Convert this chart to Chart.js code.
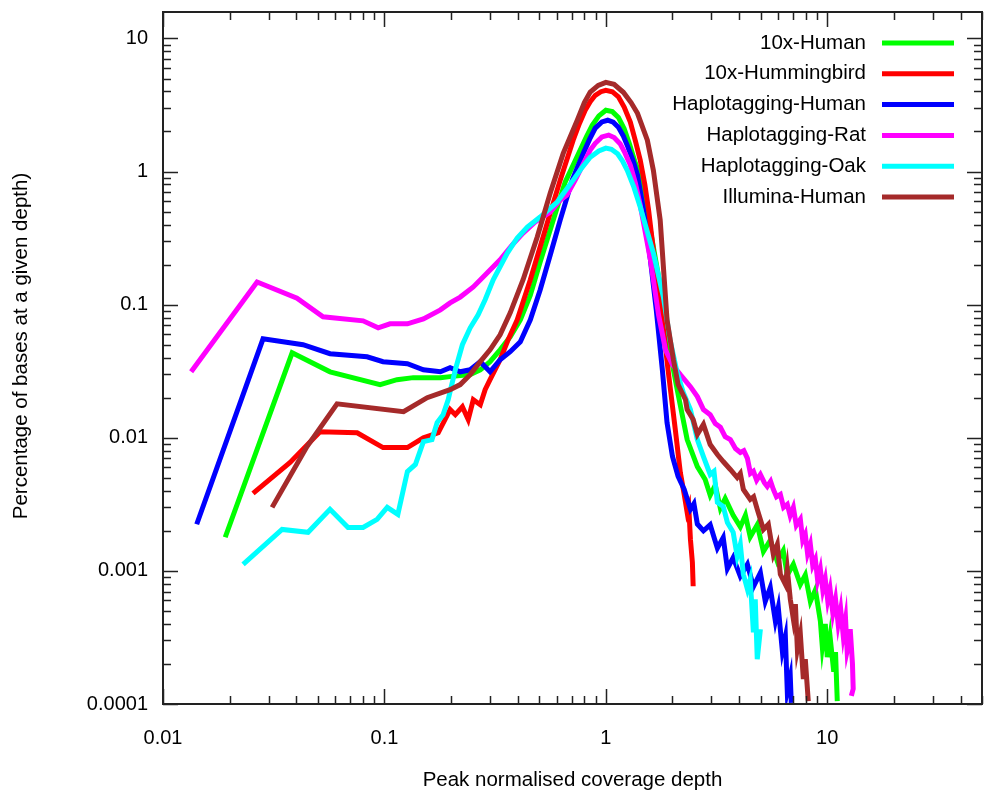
<!DOCTYPE html>
<html lang="en">
<head>
  <meta charset="UTF-8">
  <title>Coverage depth distribution</title>
  <script src="https://cdn.jsdelivr.net/npm/chart.js"></script>
  <style>
    body {
      margin: 0;
      background: #ffffff;
    }
    .chart-container {
      width: 993px;
      height: 799px;
    }
  </style>
</head>
<body>

  <div class="chart-container">
    <canvas id="depthChart"></canvas>
  </div>

  <script>
    // [depth, percentage] pairs
    const human10x = [[0.0191,0.00179],[0.0383,0.0435],[0.0568,0.0313],[0.0956,0.0251],[0.114,0.0273],[0.135,0.0283],[0.179,0.0283],[0.198,0.0288],[0.244,0.0298],[0.271,0.0324],[0.300,0.0373],[0.333,0.0458],[0.370,0.0574],[0.411,0.0769],[0.456,0.118],[0.505,0.209],[0.579,0.432],[0.655,0.833],[0.766,1.45],[0.82,1.85],[0.868,2.23],[0.93,2.62],[1.00,2.89],[1.07,2.82],[1.14,2.55],[1.21,2.10],[1.28,1.60],[1.35,1.20],[1.40,1.02],[1.48,0.65],[1.56,0.432],[1.71,0.182],[1.86,0.0769],[1.98,0.0386],[2.10,0.023],[2.33,0.00969],[2.59,0.00608],[2.81,0.00486],[2.96,0.00370],[3.12,0.00440],[3.29,0.00295],[3.46,0.00350],[3.76,0.00262],[4.05,0.00214],[4.27,0.00262],[4.49,0.00180],[4.83,0.00222],[5.15,0.00140],[5.53,0.00170],[5.95,0.00118],[6.33,0.00142],[6.60,0.000930],[7.03,0.00112],[7.56,0.000790],[7.96,0.000930],[8.39,0.000590],[8.84,0.000720],[9.31,0.000420],[9.50,0.000270],[9.80,0.000400],[10.0,0.000225],[10.3,0.000320],[10.7,0.000175],[10.9,0.000245],[11.1,0.000105]];
    const hummingbird10x = [[0.0255,0.00382],[0.0375,0.00652],[0.0512,0.0111],[0.0753,0.0109],[0.0986,0.00844],[0.127,0.00844],[0.150,0.0100],[0.175,0.0109],[0.198,0.0163],[0.209,0.0149],[0.225,0.0171],[0.239,0.0137],[0.252,0.0193],[0.271,0.0177],[0.285,0.023],[0.300,0.0273],[0.333,0.0386],[0.362,0.0545],[0.398,0.0769],[0.456,0.154],[0.549,0.432],[0.622,0.862],[0.712,1.72],[0.76,2.30],[0.807,2.89],[0.85,3.35],[0.896,3.74],[0.95,3.98],[1.00,4.08],[1.07,3.98],[1.14,3.64],[1.21,3.05],[1.29,2.35],[1.36,1.70],[1.43,1.22],[1.50,0.80],[1.56,0.514],[1.67,0.199],[1.80,0.0769],[1.91,0.0324],[2.06,0.0115],[2.17,0.00548],[2.26,0.00375],[2.33,0.00275],[2.37,0.00300],[2.41,0.00173],[2.46,0.00116],[2.48,0.000767]];
    const haploHuman = [[0.0142,0.00224],[0.0283,0.0554],[0.0429,0.0500],[0.0568,0.0428],[0.0835,0.0406],[0.0986,0.0373],[0.127,0.0360],[0.150,0.0324],[0.179,0.0313],[0.198,0.0336],[0.220,0.0313],[0.244,0.0324],[0.271,0.0373],[0.300,0.0313],[0.333,0.0386],[0.370,0.0443],[0.411,0.0526],[0.456,0.0769],[0.505,0.129],[0.561,0.236],[0.622,0.432],[0.705,0.862],[0.791,1.37],[0.845,1.75],[0.896,2.12],[0.96,2.36],[1.02,2.43],[1.08,2.35],[1.14,2.15],[1.20,1.85],[1.26,1.52],[1.33,1.20],[1.39,0.940],[1.48,0.514],[1.59,0.217],[1.69,0.0914],[1.80,0.0324],[1.89,0.0130],[2.00,0.00723],[2.12,0.00512],[2.26,0.00409],[2.41,0.0029],[2.50,0.00320],[2.59,0.00225],[2.76,0.00200],[2.96,0.00222],[3.19,0.00148],[3.39,0.00178],[3.54,0.00104],[3.76,0.00126],[4.05,0.000910],[4.36,0.00112],[4.64,0.000760],[4.99,0.000970],[5.25,0.000590],[5.53,0.000750],[5.83,0.000420],[6.01,0.000530],[6.27,0.000250],[6.47,0.000320],[6.60,0.000125],[6.81,0.000160],[6.88,0.000102]];
    const haploRat = [[0.0134,0.0313],[0.0266,0.148],[0.0403,0.112],[0.0528,0.081],[0.0801,0.0756],[0.0937,0.067],[0.106,0.0718],[0.127,0.0718],[0.150,0.0782],[0.179,0.0914],[0.198,0.103],[0.220,0.114],[0.252,0.136],[0.285,0.167],[0.333,0.217],[0.378,0.281],[0.423,0.345],[0.480,0.418],[0.561,0.496],[0.622,0.610],[0.667,0.665],[0.727,0.862],[0.807,1.22],[0.85,1.45],[0.896,1.63],[0.96,1.82],[1.03,1.88],[1.09,1.80],[1.16,1.62],[1.22,1.38],[1.29,1.12],[1.36,0.82],[1.43,0.560],[1.59,0.217],[1.73,0.0839],[1.86,0.0458],[2.00,0.0354],[2.17,0.0298],[2.41,0.0242],[2.59,0.0204],[2.76,0.0163],[2.96,0.0149],[3.12,0.0128],[3.29,0.0120],[3.46,0.0102],[3.65,0.00969],[3.85,0.00830],[4.05,0.00775],[4.20,0.00800],[4.36,0.00700],[4.50,0.00540],[4.64,0.00560],[4.80,0.00480],[4.99,0.00530],[5.20,0.00460],[5.36,0.00431],[5.55,0.00470],[5.71,0.00409],[5.90,0.00360],[6.14,0.00375],[6.35,0.00300],[6.60,0.00316],[6.80,0.00260],[7.03,0.00300],[7.25,0.00220],[7.56,0.00244],[7.75,0.00170],[7.96,0.00188],[8.15,0.00135],[8.39,0.00158],[8.60,0.00110],[8.84,0.00122],[9.05,0.000850],[9.31,0.00103],[9.55,0.000720],[9.80,0.000865],[10.05,0.000600],[10.3,0.000728],[10.6,0.000480],[10.9,0.000612],[11.2,0.000400],[11.5,0.000515],[11.8,0.000330],[12.1,0.000434],[12.3,0.000250],[12.5,0.000282],[12.7,0.000365],[13.0,0.000200],[13.1,0.000130],[12.85,0.000115]];
    const haploOak = [[0.0230,0.00112],[0.0345,0.00205],[0.0452,0.00195],[0.0568,0.0029],[0.0685,0.00212],[0.0801,0.00212],[0.0927,0.00244],[0.103,0.0030],[0.115,0.00266],[0.127,0.00558],[0.138,0.0063],[0.150,0.00936],[0.164,0.00969],[0.173,0.0130],[0.184,0.0149],[0.194,0.0193],[0.209,0.0324],[0.225,0.0500],[0.244,0.067],[0.265,0.0839],[0.285,0.109],[0.310,0.154],[0.359,0.244],[0.398,0.317],[0.442,0.383],[0.505,0.455],[0.603,0.590],[0.712,0.862],[0.78,1.07],[0.850,1.28],[0.93,1.43],[1.00,1.50],[1.06,1.47],[1.13,1.36],[1.19,1.20],[1.25,1.02],[1.34,0.76],[1.43,0.541],[1.64,0.244],[1.82,0.114],[1.95,0.0545],[2.10,0.0308],[2.24,0.0218],[2.41,0.0163],[2.59,0.00969],[2.76,0.00723],[2.96,0.0053],[3.08,0.00560],[3.19,0.00327],[3.39,0.00305],[3.54,0.00231],[3.76,0.00195],[3.92,0.00129],[4.05,0.00158],[4.18,0.000943],[4.36,0.000728],[4.49,0.000865],[4.64,0.000346],[4.73,0.000612],[4.83,0.000217],[4.99,0.000365]];
    const illuminaHuman = [[0.0311,0.0030],[0.0447,0.00859],[0.0611,0.0180],[0.122,0.0157],[0.156,0.020],[0.198,0.023],[0.220,0.0251],[0.244,0.0298],[0.271,0.0373],[0.300,0.0458],[0.333,0.0594],[0.370,0.0868],[0.423,0.154],[0.490,0.322],[0.561,0.689],[0.642,1.37],[0.743,2.43],[0.80,3.30],[0.85,3.95],[0.924,4.44],[1.00,4.68],[1.09,4.52],[1.20,3.94],[1.30,3.30],[1.39,2.74],[1.54,1.72],[1.64,1.02],[1.76,0.432],[1.89,0.0769],[2.02,0.0386],[2.12,0.0251],[2.29,0.0193],[2.33,0.0163],[2.48,0.0137],[2.59,0.0106],[2.76,0.0126],[2.96,0.00889],[3.19,0.00748],[3.39,0.00663],[3.65,0.00578],[3.92,0.00503],[4.05,0.00540],[4.18,0.00409],[4.49,0.00344],[4.65,0.00360],[4.83,0.0029],[5.15,0.00205],[5.42,0.00224],[5.71,0.00133],[5.95,0.00158],[6.14,0.000943],[6.47,0.000793],[6.60,0.00103],[6.81,0.000612],[7.03,0.000434],[7.18,0.000562],[7.33,0.000258],[7.56,0.000335],[7.80,0.000154],[7.96,0.000217],[8.21,0.000105]];

    const seriesNames = ['10x-Human', '10x-Hummingbird', 'Haplotagging-Human', 'Haplotagging-Rat', 'Haplotagging-Oak', 'Illumina-Human'];
    const seriesData = [human10x, hummingbird10x, haploHuman, haploRat, haploOak, illuminaHuman];
    const seriesColors = ['#00ff00', '#ff0000', '#0000ff', '#ff00ff', '#00ffff', '#a52a2a'];

    const xTickValues = [0.01, 0.1, 1, 10];
    const xTickLabels = ['0.01', '0.1', '1', '10'];
    const yTickValues = [0.0001, 0.001, 0.01, 0.1, 1, 10];
    const yTickLabels = ['0.0001', '0.001', '0.01', '0.1', '1', '10'];

    const FONT = 'Liberation Sans, Arial, sans-serif';

    // gnuplot-style frame: border + inward major/minor ticks on all four sides
    const framePlugin = {
      id: 'frame',
      afterDatasetsDraw(chart) {
        const { ctx, chartArea: a, scales: { x, y } } = chart;
        ctx.save();
        ctx.strokeStyle = '#222';
        ctx.lineWidth = 1.5;
        ctx.beginPath();
        for (let d = 0.01; d < 100; d *= 10) {
          for (let m = 1; m <= 9; m++) {
            const v = d * m;
            if (v < x.min * 0.999 || v > x.max * 1.001) continue;
            const px = Math.round(x.getPixelForValue(v)) + 0.5;
            const len = m === 1 ? 15 : 8;
            ctx.moveTo(px, a.bottom); ctx.lineTo(px, a.bottom - len);
            ctx.moveTo(px, a.top); ctx.lineTo(px, a.top + len);
          }
        }
        for (let d = 0.0001; d < 100; d *= 10) {
          for (let m = 1; m <= 9; m++) {
            const v = d * m;
            if (v < y.min * 0.999 || v > y.max * 1.001) continue;
            const py = Math.round(y.getPixelForValue(v)) + 0.5;
            const len = m === 1 ? 15 : 8;
            ctx.moveTo(a.left, py); ctx.lineTo(a.left + len, py);
            ctx.moveTo(a.right, py); ctx.lineTo(a.right - len, py);
          }
        }
        ctx.stroke();
        ctx.lineWidth = 2;
        ctx.strokeRect(a.left, a.top, a.right - a.left, a.bottom - a.top);

        // legend, top right inside the plot
        ctx.font = '20.5px ' + FONT;
        ctx.fillStyle = '#000';
        ctx.textAlign = 'right';
        ctx.textBaseline = 'middle';
        chart.data.datasets.forEach((ds, i) => {
          const ly = a.top + 31 + i * 30.8;
          ctx.fillText(ds.label, a.right - 116, ly);
          ctx.strokeStyle = ds.borderColor;
          ctx.lineWidth = 5;
          ctx.beginPath();
          ctx.moveTo(a.right - 100, ly);
          ctx.lineTo(a.right - 28, ly);
          ctx.stroke();
        });

        // y axis title
        ctx.translate(21, 346);
        ctx.rotate(-Math.PI / 2);
        ctx.textAlign = 'center';
        ctx.fillText('Percentage of bases at a given depth)', 0, 0);
        ctx.restore();
      }
    };

    const ctx = document.getElementById('depthChart').getContext('2d');
    const depthChart = new Chart(ctx, {
      type: 'line',
      data: {
        datasets: seriesData.map((pts, i) => ({
          label: seriesNames[i],
          data: pts.map(p => ({ x: p[0], y: p[1] })),
          borderColor: seriesColors[i],
          backgroundColor: seriesColors[i],
          borderWidth: 5,
          pointRadius: 0,
          tension: 0,
          fill: false,
          order: seriesData.length - 1 - i
        }))
      },
      options: {
        responsive: true,
        maintainAspectRatio: false,
        animation: false,
        layout: { padding: { left: 0, right: 11, top: 12, bottom: 0 } },
        plugins: {
          legend: { display: false },
          tooltip: { enabled: false }
        },
        scales: {
          x: {
            type: 'logarithmic',
            min: 0.01,
            max: 50,
            grid: { display: false, drawTicks: false },
            border: { display: false },
            afterBuildTicks: s => { s.ticks = xTickValues.map(v => ({ value: v })); },
            afterFit: s => { s.height = 95; s.paddingLeft = 0; s.paddingRight = 0; },
            ticks: {
              autoSkip: false,
              maxRotation: 0,
              padding: 22,
              color: '#000',
              font: { family: FONT, size: 20 },
              callback: v => xTickLabels[xTickValues.indexOf(v)]
            },
            title: {
              display: true,
              text: 'Peak normalised coverage depth',
              color: '#000',
              font: { family: FONT, size: 20.5 },
              padding: { top: 0, bottom: 6 }
            }
          },
          y: {
            type: 'logarithmic',
            min: 0.0001,
            max: 15.8,
            grid: { display: false, drawTicks: false },
            border: { display: false },
            afterBuildTicks: s => { s.ticks = yTickValues.map(v => ({ value: v })); },
            afterFit: s => { s.width = 163; s.paddingTop = 0; s.paddingBottom = 0; },
            ticks: {
              autoSkip: false,
              padding: 15,
              color: '#000',
              font: { family: FONT, size: 20 },
              callback: v => yTickLabels[yTickValues.indexOf(v)]
            }
          }
        }
      },
      plugins: [framePlugin]
    });
  </script>

</body>
</html>
